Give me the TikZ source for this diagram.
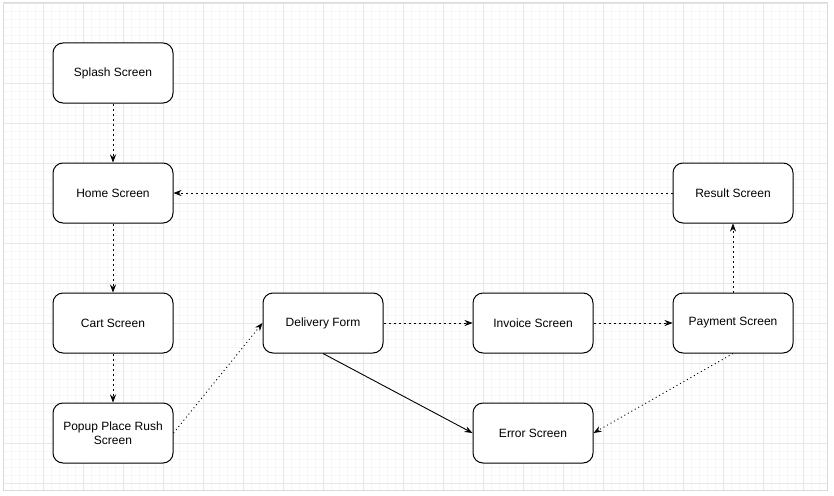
\documentclass[tikz,border=0pt]{standalone}
\usepackage{fontspec}
\setmainfont{Liberation Sans}
\usetikzlibrary{arrows.meta}
\definecolor{minorgrid}{HTML}{F6F6F6}
\definecolor{majorgrid}{HTML}{E6E6E6}
\definecolor{framegray}{HTML}{DADADA}
\begin{document}
\begin{tikzpicture}[x=1pt, y=-1pt, line width=1pt,
  screen/.style={draw, rounded corners=10pt, minimum width=120pt, minimum height=60pt,
    align=center, font=\fontsize{12}{13.5}\selectfont, fill=white},
  flow/.style={-{Stealth[length=8pt,width=6pt]}, line width=0.6pt, dash pattern=on 2pt off 3pt},
  dots/.style={-{Stealth[length=8pt,width=6pt]}, line width=0.9pt, dash pattern=on 1pt off 3pt},
  plain/.style={-{Stealth[length=8pt,width=6pt]}, line width=0.9pt}]
\useasboundingbox (0,0) rectangle (834,495);
\fill[white] (0,0) rectangle (834,495);

% grid
\foreach \x in {3,11,...,827} \draw[minorgrid, line width=0.6pt] (\x,3) -- (\x,490);
\foreach \y in {3,11,...,490} \draw[minorgrid, line width=0.6pt] (3,\y) -- (827,\y);
\foreach \x in {3,43,...,827} \draw[majorgrid, line width=0.8pt] (\x,3) -- (\x,490);
\foreach \y in {3,43,...,490} \draw[majorgrid, line width=0.8pt] (3,\y) -- (827,\y);
\draw[framegray, line width=1pt] (3,3) rectangle (827,490);

\node[screen] (splash) at (113,73){Splash Screen};
\node[screen] (home) at (113,193){Home Screen};
\node[screen] (cart) at (113,323){Cart Screen};
\node[screen] (popup) at (113,433){Popup Place Rush\\Screen};
\node[screen] (delivery) at (323,323){Delivery Form};
\node[screen] (invoice) at (533,323){Invoice Screen};
\node[screen] (payment) at (733,323){Payment Screen};
\node[screen] (result) at (733,193){Result Screen};
\node[screen] (error) at (533,433){Error Screen};

\draw[flow] (splash) -- (home);
\draw[flow] (home) -- (cart);
\draw[flow] (cart) -- (popup);
\draw[dots] (popup.east) -- (delivery.west);
\draw[flow] (delivery) -- (invoice);
\draw[flow] (invoice) -- (payment);
\draw[flow] (payment) -- (result);
\draw[flow] (result) -- (home);
\draw[plain] (delivery.south) -- (error.west);
\draw[dots] (payment.south) -- (error.east);
\end{tikzpicture}
\end{document}
